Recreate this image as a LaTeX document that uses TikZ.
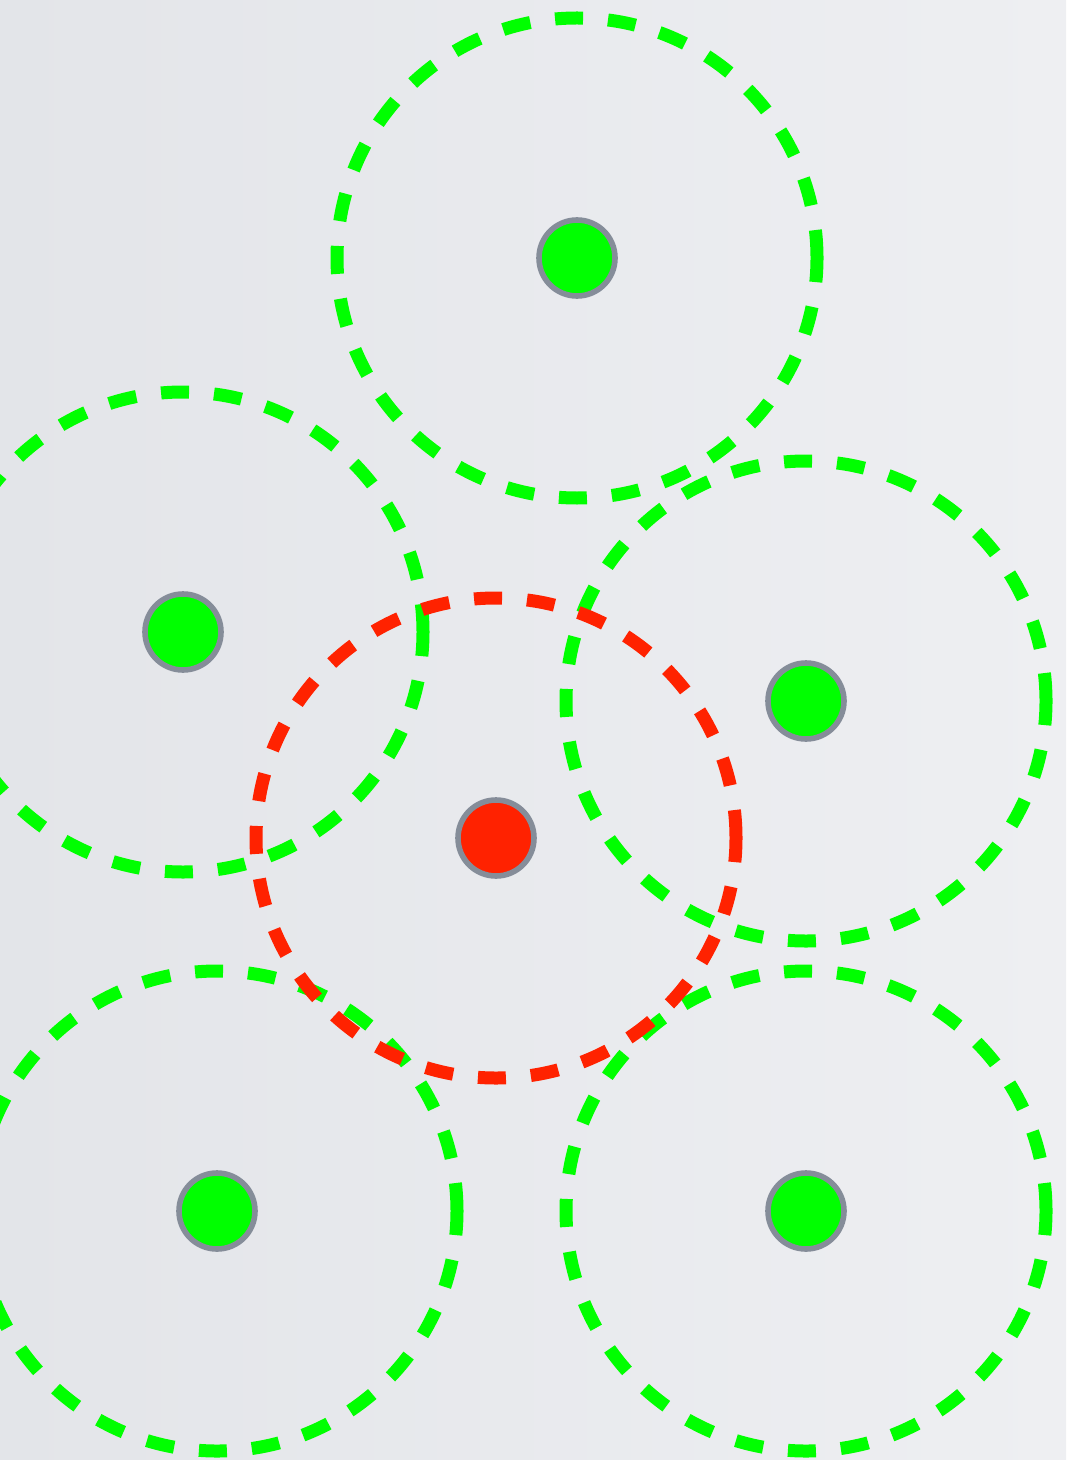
\documentclass[tikz,border=0pt]{standalone}

\definecolor{cellgreen}{HTML}{00FF00}
\definecolor{cellred}{HTML}{FF2200}
\definecolor{rimgray}{HTML}{858D99}
\definecolor{bgleft}{HTML}{E3E5E9}
\definecolor{bgright}{HTML}{EEEFF2}

\begin{document}
\begin{tikzpicture}[x=0.5pt, y=-0.5pt,
  coverage/.style={circle, draw, dash pattern=on 14pt off 12.5pt, line width=6.5pt,
                   minimum size=240pt, inner sep=0pt},
  station/.style={circle, draw=rimgray, line width=2.8pt,
                  minimum size=38pt, inner sep=0pt}]

  % frame
  \useasboundingbox (0,0) rectangle (1066,1460);
  \shade[left color=bgleft, right color=bgright] (0,0) rectangle (1066,1460);
  \clip (0,0) rectangle (1066,1460);

  % ---- coverage ranges (name/x/y/colour) ----
  \foreach \name/\x/\y/\col in {
      top/577/258/cellgreen,
      left/183/632/cellgreen,
      right/806/701/cellgreen,
      botleft/217/1211/cellgreen,
      botright/806/1211/cellgreen,
      mid/496/838/cellred}{
    \node[coverage, draw=\col] (r-\name) at (\x,\y) {};
  }

  % ---- stations ----
  \foreach \name/\col in {top/cellgreen, left/cellgreen, right/cellgreen,
                          botleft/cellgreen, botright/cellgreen, mid/cellred}
    \node[station, fill=\col] (s-\name) at (r-\name.center) {};

\end{tikzpicture}
\end{document}
